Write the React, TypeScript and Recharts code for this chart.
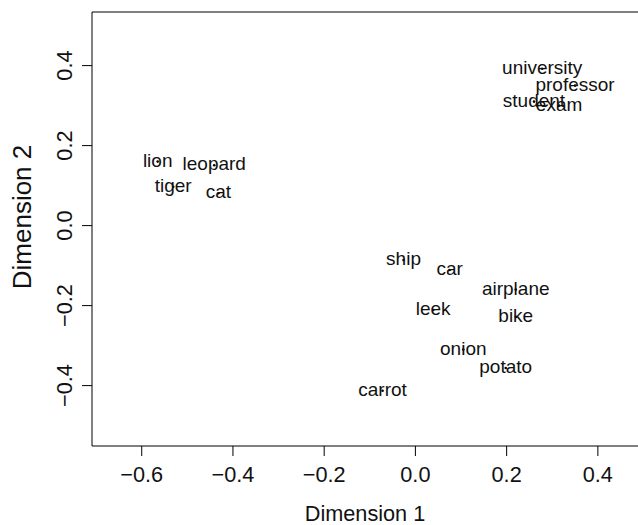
import React from 'react';
import { ScatterChart, Scatter, XAxis, YAxis, ReferenceLine } from 'recharts';

// MDS configuration of word stimuli
const words = ['university', 'professor', 'student', 'exam', 'lion', 'leopard', 'tiger', 'cat',
  'ship', 'car', 'airplane', 'leek', 'bike', 'onion', 'potato', 'carrot'];
const dim1 = [0.278, 0.35, 0.26, 0.315, -0.565, -0.441, -0.531, -0.432,
  -0.026, 0.075, 0.22, 0.039, 0.22, 0.105, 0.198, -0.072];
const dim2 = [0.392, 0.35, 0.31, 0.3, 0.16, 0.151, 0.097, 0.081,
  -0.086, -0.111, -0.16, -0.211, -0.228, -0.31, -0.356, -0.413];

const xTicks = [-0.6, -0.4, -0.2, 0, 0.2, 0.4];
const yTicks = [-0.4, -0.2, 0, 0.2, 0.4];
const xDomain = [-0.709, 0.488];
const yDomain = [-0.551, 0.534];

const font = '"Liberation Sans", Arial, Helvetica, sans-serif';

const data = words.map((w, i) => ({ word: w, x: dim1[i], y: dim2[i] }));

const fmt = (v: number) => v.toFixed(1).replace('-', '\u2212');

const WordPoint = (props: any) => {
  const { cx, cy, payload } = props;
  return (
    <g>
      <circle cx={cx} cy={cy} r={1.3} fill="#000" />
      <text x={cx} y={cy + 5} textAnchor="middle" fontSize={19} fontFamily={font} fill="#111">
        {payload.word}
      </text>
    </g>
  );
};

const YTick = (props: any) => {
  const { x, y, payload } = props;
  return (
    <text x={x} y={y} transform={`rotate(-90, ${x}, ${y})`} textAnchor="middle"
      fontSize={21.7} fontFamily={font} fill="#111">
      {fmt(payload.value)}
    </text>
  );
};

export default function App() {
  return (
    <div style={{ position: 'absolute', left: 0, top: 0, background: '#fff' }}>
      <ScatterChart width={638} height={525} margin={{ top: 12, right: 0, bottom: 0, left: 0 }}>
        <XAxis
          type="number"
          dataKey="x"
          domain={xDomain}
          ticks={xTicks}
          tickFormatter={fmt}
          allowDataOverflow
          height={79}
          tickSize={10}
          tickMargin={11}
          stroke="#000"
          tick={{ fontSize: 21.7, fontFamily: font, fill: '#111' }}
          label={({ viewBox }: any) => (
            <text x={viewBox.x + viewBox.width / 2} y={521} textAnchor="middle"
              fontSize={21.7} fontFamily={font} fill="#111">Dimension 1</text>
          )}
        />
        <YAxis
          type="number"
          dataKey="y"
          domain={yDomain}
          ticks={yTicks}
          allowDataOverflow
          width={92}
          tickSize={10}
          tickMargin={10}
          stroke="#000"
          tick={<YTick />}
          label={() => (
            <text x={31} y={217} transform="rotate(-90, 31, 217)" textAnchor="middle"
              fontSize={26} fontFamily={font} fill="#111">Dimension 2</text>
          )}
        />
        <ReferenceLine y={yDomain[1]} stroke="#000" />
        <Scatter data={data} shape={<WordPoint />} isAnimationActive={false} />
      </ScatterChart>
    </div>
  );
}
